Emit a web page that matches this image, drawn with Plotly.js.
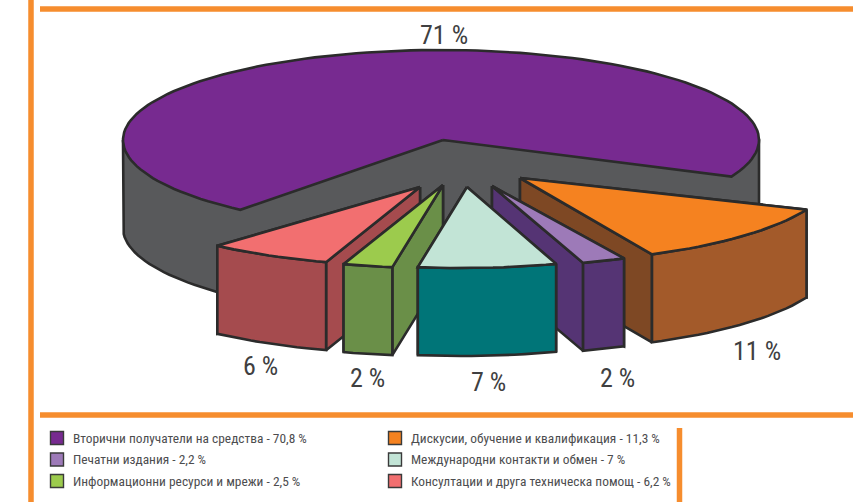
<!DOCTYPE html>
<html><head><meta charset="utf-8">
<script src="https://cdn.plot.ly/plotly-3.0.1.min.js"></script>
<style>html,body{margin:0;padding:0;background:#fff}#c{width:853px;height:502px}</style>
</head><body><div id="c"></div>
<script>
const categories = ['Вторични получатели на средства','Дискусии, обучение и квалификация','Печатни издания','Международни контакти и обмен','Информационни ресурси и мрежи','Консултации и друга техническа помощ'];
const shares = [70.8, 11.3, 2.2, 7, 2.5, 6.2];
const shareText = ['70,8 %','11,3 %','2,2 %','7 %','2,5 %','6,2 %'];
const pieLabels = ['71 %','11 %','2 %','7 %','2 %','6 %'];

const topColors = ['#772a90','#f58220','#9d7ab8','#c2e4d6','#9ccb4d','#f26f70'];
const outerColors = ['#58595b','#a35a2a','#553474','#007578','#6a8f48','#a54b4e'];
const radialColors = ['#58595b','#7e4824','#553474','#007578','#6a8f48','#a54b4e'];

// projection of the pie
const CX = 441, CY = 140, RX = 318, RY = 90, DEPTH = 88, START = 24;
const EDGE = '#2b2b2b', EDGE_W = 2.6;
// explode offset of each slice's rim and of its apex, from the pie centre
const rimPull = [[0,0],[75,33],[47,37],[20,38],[-5.5,38],[-23,36]];
const apexPull = [[2,0],[79,38],[51,46],[26,47],[2,45],[-21,47]];
const labelPos = [[444,35],[757,351],[617,378],[488,382],[367,378],[260,366]];

const traces = [];
function poly(xs, ys, fill){
  traces.push({type:'scatter',mode:'lines',x:xs.concat(xs[0]),y:ys.concat(ys[0]),fill:'toself',fillcolor:fill,
    line:{color:EDGE,width:EDGE_W,shape:'linear'},hoverinfo:'skip',showlegend:false});
}
function arc(cx, cy, a0, a1){
  const n = Math.max(2, Math.ceil(Math.abs(a1-a0)/2)), xs=[], ys=[];
  for(let i=0;i<=n;i++){const t=(a0+(a1-a0)*i/n)*Math.PI/180; xs.push(cx+RX*Math.cos(t)); ys.push(cy+RY*Math.sin(t));}
  return [xs,ys];
}
// slice angles from the values: slices run on from START, main slice fills the rest behind
const angle = shares.map(v=>v*3.6);
const ranges = [[START-angle[0]+360, START+360]];
let a = START;
for(let i=1;i<shares.length;i++){ranges[i]=[a,a+angle[i]]; a+=angle[i];}

// main slice: grey body, then its top face
(function(){
  const [a0,a1]=ranges[0];
  const ax=CX+apexPull[0][0], ay=CY+apexPull[0][1];
  const [bx0,by0]=arc(CX,CY+DEPTH,180,a0);
  const [bx1,by1]=arc(CX,CY+DEPTH,a1,360);
  const xs=[CX-RX].concat(bx0,[ax],bx1,[CX+RX]);
  const ys=[CY].concat(by0,[ay+DEPTH],by1,[CY]);
  poly(xs,ys,outerColors[0]);
  const [tx,ty]=arc(CX,CY,a0,a1);
  poly([ax].concat(tx),[ay].concat(ty),topColors[0]);
})();

function slice(i){
  const [a0,a1]=ranges[i], mid=(a0+a1)/2;
  const cx=CX+rimPull[i][0], cy=CY+rimPull[i][1];
  const ax=CX+apexPull[i][0], ay=CY+apexPull[i][1];
  const [tx,ty]=arc(cx,cy,a0,a1);
  const n=tx.length-1;
  const ends = mid<90 ? [0,n] : [n,0];
  ends.forEach(k=>{
    poly([ax,tx[k],tx[k],ax],[ay,ty[k],ty[k]+DEPTH,ay+DEPTH],radialColors[i]);
  });
  poly(tx.concat(tx.slice().reverse()),ty.concat(ty.slice().reverse().map(y=>y+DEPTH)),outerColors[i]);
  poly([ax].concat(tx),[ay].concat(ty),topColors[i]);
}
[5,1,4,2,3].forEach(slice);

// legend swatches
const legendCols=[50,388], legendRows=[438,459.5,481];
const lx=[],ly=[];
shares.forEach((_,i)=>{lx.push(legendCols[i%2]+7);ly.push(legendRows[Math.floor(i/2)]);});
traces.push({type:'scatter',mode:'markers',x:lx,y:ly,hoverinfo:'skip',showlegend:false,
  marker:{symbol:'square',size:13,color:topColors,line:{color:'#3a3a3a',width:1.4}}});

const FONT='"Roboto Condensed",Roboto,sans-serif';
const annotations=[];
pieLabels.forEach((t,i)=>annotations.push({x:labelPos[i][0],y:labelPos[i][1],xref:'x',yref:'y',text:t,showarrow:false,
  font:{family:FONT,size:26,color:'#404041'},xanchor:'center',yanchor:'middle'}));
categories.forEach((c,i)=>annotations.push({x:lx[i]+13.5,y:ly[i],xref:'x',yref:'y',text:c+' - '+shareText[i],showarrow:false,
  font:{family:FONT,size:13.4,color:'#4d4d4f'},xanchor:'left',yanchor:'middle'}));

const O='#f68d2e';
const rule=(x0,y0,x1,y1,w)=>({type:'line',xref:'x',yref:'y',x0,y0,x1,y1,line:{color:O,width:w}});
const layout={width:853,height:502,margin:{l:0,r:0,t:0,b:0},paper_bgcolor:'#fff',plot_bgcolor:'#fff',showlegend:false,
  xaxis:{range:[0,853],visible:false,fixedrange:true},
  yaxis:{range:[502,0],visible:false,fixedrange:true},
  annotations,
  shapes:[rule(31,0,31,502,5.5),rule(40,9,853,9,5.5),rule(40,415,853,415,5.5),rule(679.5,428,679.5,502,5.5)]};
Plotly.newPlot('c',traces,layout,{displayModeBar:false,staticPlot:true});
</script></body></html>
